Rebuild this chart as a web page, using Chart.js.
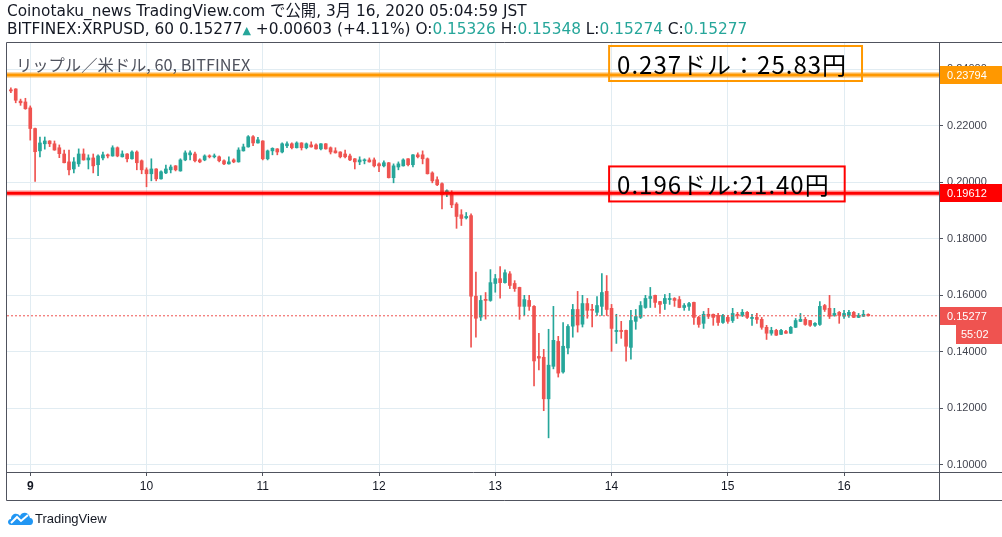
<!DOCTYPE html>
<html>
<head>
<meta charset="utf-8">
<script src="https://cdn.jsdelivr.net/npm/chart.js@4.4.1/dist/chart.umd.min.js"></script>
<style>
  body { margin: 0; background: #fff; }
  #wrap { position: relative; width: 1002px; height: 537px; overflow: hidden; font-family: 'Liberation Sans', 'Noto Sans CJK JP', sans-serif; }
  canvas { position: absolute; left: 0; top: 0; }
  .hdr { position: absolute; left: 7px; font-size: 15.35px; line-height: 18px; color: #131722; white-space: nowrap; font-family: 'DejaVu Sans', 'Noto Sans CJK JP', sans-serif; }
  .up { color: #26a69a; }
  .tri { color: #26a69a; font-size: 11px; }
  #legend { position: absolute; left: 16px; top: 52px; font-size: 16.3px; color: #50535e; white-space: nowrap; font-family: 'Noto Sans CJK JP', 'Liberation Sans', sans-serif; }
  #logo { position: absolute; left: 7px; top: 510px; font-size: 13px; color: #131722; display: flex; align-items: center; gap: 1px; }
</style>
</head>
<body>
<div id="wrap">
  <canvas id="chart" width="1002" height="537"></canvas>
  <div class="hdr" id="line1" style="top:2px"></div>
  <div class="hdr" id="line2" style="top:20px"></div>
  <div id="legend">リップル／米ドル, 60, BITFINEX</div>
  <div id="logo">
    <svg width="27" height="16" viewBox="0 0 27 16"><path d="M4 15 C0 15 0 9 4 9 C4 4 10 2 13 6 C15 1 22 2 23 8 C27 8 27 15 23 15 Z" fill="#2196f3"/><polyline points="4,13 10,7 14,11 21,5" fill="none" stroke="#fff" stroke-width="2"/></svg>
    <span>TradingView</span>
  </div>
</div>
<script>
// hourly candles, first one at 20:00 on Mar 8, last one at 05:00 on Mar 16
const opens = [
  0.2327, 0.2330, 0.2287, 0.2284, 0.2263, 0.2190, 0.2111, 0.2136, 0.2146, 0.2136, 0.2122, 0.2100,
  0.2072, 0.2047, 0.2065, 0.2100, 0.2079, 0.2086, 0.2062, 0.2086, 0.2097, 0.2093, 0.2122, 0.2090,
  0.2100, 0.2083, 0.2107, 0.2076, 0.2044, 0.2030, 0.2047, 0.2012, 0.2033, 0.2044, 0.2058, 0.2040,
  0.2079, 0.2097, 0.2100, 0.2079, 0.2079, 0.2093, 0.2090, 0.2090, 0.2076, 0.2065, 0.2079, 0.2072,
  0.2111, 0.2125, 0.2161, 0.2139, 0.2146, 0.2083, 0.2111, 0.2118, 0.2107, 0.2129, 0.2136, 0.2122,
  0.2139, 0.2122, 0.2132, 0.2132, 0.2118, 0.2136, 0.2122, 0.2111, 0.2107, 0.2100, 0.2093, 0.2083,
  0.2072, 0.2076, 0.2079, 0.2079, 0.2065, 0.2058, 0.2069, 0.2016, 0.2054, 0.2058, 0.2083, 0.2062,
  0.2097, 0.2097, 0.2083, 0.2033, 0.2009, 0.1995, 0.1966, 0.1956, 0.1923, 0.1885, 0.1874, 0.1882,
  0.1597, 0.1523, 0.1586, 0.1582, 0.1642, 0.1659, 0.1645, 0.1676, 0.1642, 0.1628, 0.1561, 0.1582,
  0.1561, 0.1384, 0.1381, 0.1234, 0.1349, 0.1437, 0.1329, 0.1414, 0.1491, 0.1550, 0.1498, 0.1571,
  0.1550, 0.1540, 0.1561, 0.1614, 0.1554, 0.1472, 0.1476, 0.1476, 0.1416, 0.1508, 0.1522, 0.1557,
  0.1589, 0.1600, 0.1578, 0.1571, 0.1585, 0.1589, 0.1585, 0.1557, 0.1561, 0.1575, 0.1522, 0.1501,
  0.1533, 0.1533, 0.1529, 0.1504, 0.1522, 0.1511, 0.1533, 0.1529, 0.1540, 0.1518, 0.1522, 0.1515,
  0.1487, 0.1466, 0.1476, 0.1462, 0.1472, 0.1466, 0.1487, 0.1508, 0.1515, 0.1511, 0.1494, 0.1497,
  0.1564, 0.1554, 0.1529, 0.1540, 0.1526, 0.1529, 0.1540, 0.1522, 0.1526, 0.15326
];
const highs = [
  0.2334, 0.2331, 0.2294, 0.2297, 0.2270, 0.2192, 0.2160, 0.2160, 0.2147, 0.2146, 0.2132, 0.2114,
  0.2114, 0.2087, 0.2118, 0.2118, 0.2097, 0.2100, 0.2097, 0.2107, 0.2100, 0.2129, 0.2125, 0.2111,
  0.2101, 0.2111, 0.2111, 0.2079, 0.2051, 0.2083, 0.2048, 0.2040, 0.2061, 0.2061, 0.2059, 0.2083,
  0.2111, 0.2111, 0.2107, 0.2083, 0.2097, 0.2097, 0.2100, 0.2093, 0.2079, 0.2090, 0.2083, 0.2122,
  0.2135, 0.2165, 0.2165, 0.2159, 0.2147, 0.2114, 0.2122, 0.2119, 0.2139, 0.2143, 0.2139, 0.2143,
  0.2140, 0.2139, 0.2143, 0.2136, 0.2137, 0.2137, 0.2125, 0.2122, 0.2108, 0.2114, 0.2100, 0.2084,
  0.2090, 0.2083, 0.2086, 0.2086, 0.2069, 0.2076, 0.2070, 0.2065, 0.2072, 0.2083, 0.2084, 0.2098,
  0.2104, 0.2111, 0.2086, 0.2037, 0.2019, 0.1998, 0.1973, 0.1970, 0.1928, 0.1903, 0.1893, 0.1888,
  0.1682, 0.1599, 0.1610, 0.1691, 0.1674, 0.1702, 0.1690, 0.1684, 0.1652, 0.1629, 0.1600, 0.1600,
  0.1564, 0.1466, 0.1409, 0.1480, 0.1561, 0.1455, 0.1504, 0.1497, 0.1568, 0.1614, 0.1600, 0.1589,
  0.1568, 0.1596, 0.1677, 0.1670, 0.1568, 0.1533, 0.1508, 0.1477, 0.1547, 0.1550, 0.1578, 0.1600,
  0.1628, 0.1601, 0.1579, 0.1603, 0.1607, 0.1592, 0.1596, 0.1571, 0.1575, 0.1576, 0.1526, 0.1543,
  0.1554, 0.1534, 0.1536, 0.1533, 0.1529, 0.1554, 0.1540, 0.1550, 0.1543, 0.1533, 0.1536, 0.1522,
  0.1494, 0.1487, 0.1480, 0.1480, 0.1476, 0.1490, 0.1518, 0.1536, 0.1522, 0.1512, 0.1504, 0.1578,
  0.1568, 0.1600, 0.1554, 0.1543, 0.1547, 0.1547, 0.1543, 0.1536, 0.1547, 0.15348
];
const lows = [
  0.2317, 0.2281, 0.2272, 0.2258, 0.2149, 0.2003, 0.2090, 0.2117, 0.2126, 0.2113, 0.2087, 0.2068,
  0.2026, 0.2033, 0.2056, 0.2078, 0.2047, 0.2033, 0.2023, 0.2079, 0.2086, 0.2092, 0.2090, 0.2089,
  0.2072, 0.2082, 0.2044, 0.2030, 0.1984, 0.2005, 0.2005, 0.2011, 0.2030, 0.2033, 0.2040, 0.2039,
  0.2076, 0.2079, 0.2072, 0.2069, 0.2076, 0.2086, 0.2086, 0.2072, 0.2062, 0.2064, 0.2069, 0.2071,
  0.2110, 0.2124, 0.2129, 0.2138, 0.2079, 0.2079, 0.2097, 0.2097, 0.2104, 0.2122, 0.2118, 0.2121,
  0.2114, 0.2118, 0.2124, 0.2117, 0.2114, 0.2117, 0.2100, 0.2103, 0.2086, 0.2086, 0.2076, 0.2047,
  0.2062, 0.2065, 0.2071, 0.2054, 0.2037, 0.2054, 0.2015, 0.1998, 0.2044, 0.2057, 0.2058, 0.2054,
  0.2086, 0.2065, 0.2029, 0.1998, 0.1988, 0.1906, 0.1949, 0.1910, 0.1837, 0.1847, 0.1870, 0.1417,
  0.1452, 0.1511, 0.1516, 0.1579, 0.1611, 0.1590, 0.1643, 0.1624, 0.1614, 0.1515, 0.1529, 0.1547,
  0.1280, 0.1336, 0.1192, 0.1096, 0.1340, 0.1311, 0.1325, 0.1393, 0.1452, 0.1470, 0.1488, 0.1519,
  0.1488, 0.1529, 0.1529, 0.1529, 0.1402, 0.1430, 0.1448, 0.1367, 0.1374, 0.1480, 0.1518, 0.1554,
  0.1557, 0.1557, 0.1536, 0.1550, 0.1568, 0.1561, 0.1556, 0.1547, 0.1547, 0.1497, 0.1487, 0.1483,
  0.1518, 0.1494, 0.1494, 0.1501, 0.1501, 0.1504, 0.1518, 0.1525, 0.1518, 0.1494, 0.1501, 0.1480,
  0.1444, 0.1459, 0.1458, 0.1461, 0.1465, 0.1465, 0.1486, 0.1507, 0.1494, 0.1490, 0.1490, 0.1494,
  0.1543, 0.1518, 0.1526, 0.1501, 0.1518, 0.1522, 0.1521, 0.1521, 0.1525, 0.15274
];
const closes = [
  0.2323, 0.2290, 0.2281, 0.2260, 0.2190, 0.2108, 0.2139, 0.2146, 0.2136, 0.2114, 0.2101, 0.2069,
  0.2044, 0.2072, 0.2100, 0.2079, 0.2086, 0.2058, 0.2093, 0.2097, 0.2093, 0.2122, 0.2093, 0.2100,
  0.2083, 0.2107, 0.2069, 0.2044, 0.2030, 0.2047, 0.2012, 0.2037, 0.2047, 0.2054, 0.2044, 0.2079,
  0.2104, 0.2104, 0.2076, 0.2072, 0.2093, 0.2090, 0.2093, 0.2076, 0.2065, 0.2072, 0.2072, 0.2114,
  0.2125, 0.2161, 0.2139, 0.2150, 0.2083, 0.2111, 0.2120, 0.2107, 0.2136, 0.2136, 0.2122, 0.2139,
  0.2122, 0.2136, 0.2125, 0.2118, 0.2136, 0.2118, 0.2107, 0.2104, 0.2090, 0.2090, 0.2079, 0.2072,
  0.2079, 0.2079, 0.2072, 0.2058, 0.2058, 0.2069, 0.2016, 0.2058, 0.2065, 0.2079, 0.2062, 0.2097,
  0.2090, 0.2083, 0.2030, 0.2005, 0.1991, 0.1956, 0.1970, 0.1920, 0.1879, 0.1872, 0.1879, 0.1597,
  0.1519, 0.1582, 0.1582, 0.1645, 0.1659, 0.1645, 0.1680, 0.1635, 0.1624, 0.1561, 0.1585, 0.1561,
  0.1368, 0.1378, 0.1234, 0.1353, 0.1441, 0.1325, 0.1420, 0.1490, 0.1550, 0.1495, 0.1571, 0.1547,
  0.1547, 0.1564, 0.1610, 0.1550, 0.1483, 0.1476, 0.1472, 0.1420, 0.1511, 0.1525, 0.1564, 0.1589,
  0.1596, 0.1575, 0.1568, 0.1589, 0.1589, 0.1582, 0.1557, 0.1564, 0.1571, 0.1522, 0.1497, 0.1533,
  0.1526, 0.1522, 0.1504, 0.1529, 0.1508, 0.1536, 0.1529, 0.1540, 0.1522, 0.1522, 0.1515, 0.1487,
  0.1466, 0.1476, 0.1459, 0.1476, 0.1466, 0.1487, 0.1511, 0.1515, 0.1497, 0.1494, 0.1501, 0.1561,
  0.1550, 0.1526, 0.1536, 0.1529, 0.1536, 0.1540, 0.1522, 0.1529, 0.1533, 0.15277
];

const dayLabels = ['9', '10', '11', '12', '13', '14', '15', '16'];
const firstDayIndex = 4;      // candle index of 00:00 on the 9th
const hoursPerDay = 24;

const orangeLevel = 0.23794;
const redLevel = 0.19612;
const notes = [
  { text: '0.237ドル：25.83円', x: 123.5, price: 0.2420, color: '#ff9800' },
  { text: '0.196ドル:21.40円', x: 123.5, price: 0.1994, color: '#ff0000' }
];
const dayChange = '+0.00603';
const dayChangePct = '+4.11%';
const countdown = '55:02';

const UP = '#26a69a';
const DOWN = '#ef5350';
const FRAME = '#50535e';
const GRID = '#e1ecf2';

const X_MIN = -0.8;
const X_MAX = 191.6;

const last = closes.length - 1;
const fmt = v => v.toFixed(5);

document.getElementById('line1').textContent =
  'Coinotaku_news TradingView.com で公開, 3月 16, 2020 05:04:59 JST';
document.getElementById('line2').innerHTML =
  'BITFINEX:XRPUSD, 60 ' + fmt(closes[last]) + '<span class="tri">▲</span> ' +
  dayChange + ' (' + dayChangePct + ') O:<span class="up">' + fmt(opens[last]) +
  '</span> H:<span class="up">' + fmt(highs[last]) +
  '</span> L:<span class="up">' + fmt(lows[last]) +
  '</span> C:<span class="up">' + fmt(closes[last]) + '</span>';

const idx = opens.map((_, i) => i);
const barColors = idx.map(i => closes[i] >= opens[i] ? UP : DOWN);

const levelLine = (price, color, width, dash) => ({
  type: 'line',
  data: [{ x: X_MIN, y: price }, { x: X_MAX, y: price }],
  borderColor: color,
  borderWidth: width,
  borderDash: dash || [],
  pointRadius: 0,
  order: 0
});

const frame = {
  id: 'frame',
  afterDatasetsDraw(chart) {
    const { ctx, scales: { x, y } } = chart;
    ctx.save();
    notes.forEach(n => {
      ctx.font = '24px "Noto Sans CJK JP", sans-serif';
      ctx.letterSpacing = '1px';
      const left = x.getPixelForValue(n.x);
      const cy = y.getPixelForValue(n.price);
      const w = ctx.measureText(n.text).width + 23;
      ctx.strokeStyle = n.color;
      ctx.lineWidth = 2;
      ctx.strokeRect(left, cy - 17.5, w, 35);
      ctx.fillStyle = '#000';
      ctx.textBaseline = 'middle';
      ctx.fillText(n.text, left + 8, cy + 1);
    });
    ctx.restore();
  },
  afterDraw(chart) {
    const { ctx, chartArea: a, scales: { x, y }, width } = chart;
    ctx.save();
    ctx.strokeStyle = FRAME;
    ctx.lineWidth = 1;
    ctx.beginPath();
    ctx.moveTo(a.left - 0.5, a.top - 0.5); ctx.lineTo(width, a.top - 0.5);
    ctx.moveTo(a.left - 0.5, a.top - 0.5); ctx.lineTo(a.left - 0.5, x.bottom + 0.5);
    ctx.moveTo(a.left - 0.5, x.bottom + 0.5); ctx.lineTo(width, x.bottom + 0.5);
    ctx.moveTo(a.right + 0.5, a.top); ctx.lineTo(a.right + 0.5, x.bottom);
    ctx.moveTo(a.right, a.bottom + 0.5); ctx.lineTo(width, a.bottom + 0.5);
    ctx.stroke();

    ctx.font = '11px "Liberation Sans", sans-serif';
    ctx.textBaseline = 'middle';
    const tag = (price, color) => {
      const py = Math.round(y.getPixelForValue(price));
      ctx.fillStyle = color;
      ctx.fillRect(a.right + 1, py - 9, width - a.right, 18);
      ctx.fillStyle = '#fff';
      ctx.fillText(fmt(price), a.right + 8, py + 1);
      return py;
    };
    tag(orangeLevel, '#ff9800');
    tag(redLevel, '#ff0000');
    const py = tag(closes[last], DOWN);
    ctx.fillStyle = DOWN;
    ctx.fillRect(a.right + 17, py + 9, width - a.right - 17, 19);
    ctx.fillStyle = '#fff';
    ctx.fillText(countdown, a.right + 22, py + 19);
    ctx.restore();
  }
};

new Chart(document.getElementById('chart'), {
  type: 'bar',
  data: {
    datasets: [
      levelLine(orangeLevel, 'rgba(255,152,0,0.35)', 6),
      levelLine(orangeLevel, '#ff9800', 3),
      levelLine(redLevel, 'rgba(255,0,0,0.3)', 6),
      levelLine(redLevel, '#ff0000', 3),
      levelLine(closes[last], DOWN, 1, [2, 2]),
      {
        data: idx.map(i => ({ x: i, y: [opens[i], closes[i]] })),
        backgroundColor: barColors,
        barThickness: 3,
        minBarLength: 1,
        grouped: false,
        order: 2
      },
      {
        data: idx.map(i => ({ x: i, y: [lows[i], highs[i]] })),
        backgroundColor: barColors,
        barThickness: 1,
        grouped: false,
        order: 3
      }
    ]
  },
  options: {
    responsive: false,
    animation: false,
    devicePixelRatio: 1,
    layout: { padding: { left: 7, top: 43, right: 0, bottom: 37 } },
    plugins: { legend: { display: false }, tooltip: { enabled: false } },
    scales: {
      x: {
        type: 'linear',
        min: X_MIN,
        max: X_MAX,
        offset: false,
        afterBuildTicks: s => {
          s.ticks = dayLabels.map((_, i) => ({ value: firstDayIndex + i * hoursPerDay }));
        },
        afterFit: s => { s.height = 28; },
        ticks: {
          autoSkip: false,
          maxRotation: 0,
          padding: 3,
          color: '#131722',
          font: c => ({ size: 12, weight: c.index === 0 ? 'bold' : 'normal' }),
          callback: (v, i) => dayLabels[i]
        },
        grid: { offset: false, color: GRID, tickColor: FRAME, tickLength: 4 },
        border: { color: FRAME }
      },
      y: {
        position: 'right',
        min: 0.09752,
        max: 0.24925,
        afterFit: s => { s.width = 63; },
        ticks: {
          stepSize: 0.02,
          includeBounds: false,
          padding: 4,
          color: '#434651',
          font: { size: 11 },
          callback: v => fmt(v)
        },
        grid: { color: GRID, tickColor: FRAME, tickLength: 4 },
        border: { color: FRAME }
      }
    }
  },
  plugins: [frame]
});
</script>
</body>
</html>
